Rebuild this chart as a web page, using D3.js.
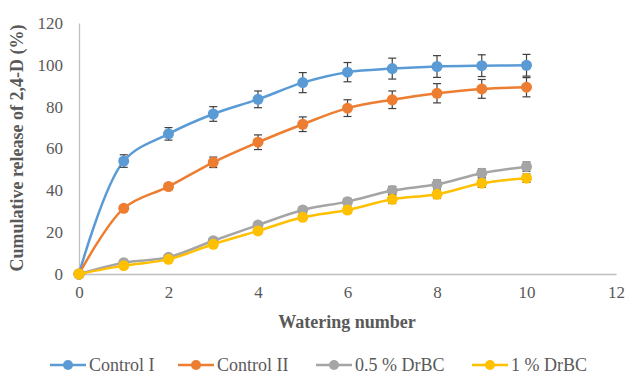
<!DOCTYPE html>
<html><head><meta charset="utf-8">
<script src="https://cdn.jsdelivr.net/npm/d3@7"></script>
<style>body{margin:0;background:#fff}svg{display:block}</style>
</head><body>
<svg id="c" width="627" height="381"></svg>
<script>
const watering = [0,1,2,3,4,5,6,7,8,9,10];
const seriesNames = ["Control I","Control II","0.5 % DrBC","1 % DrBC"];
const controlI   = [0,54,67,76.5,83.5,91.5,96.5,98.2,99.2,99.6,99.8];
const controlIErr= [0,3,3,3.5,4,4.8,4.6,5,5.2,5.2,5.2];
const controlII  = [0,31.4,41.8,53.4,63,71.6,79.3,83.3,86.4,88.5,89.3];
const controlIIErr=[0,1.2,1.5,2.5,3.5,3.5,4,4.2,4.6,4.5,4.6];
const drbc05     = [0,5.4,8,15.9,23.4,30.6,34.6,39.9,42.9,48.2,51.3];
const drbc05Err  = [0,1,1,1.5,1.5,1.5,1.5,2,2,2,2.2];
const drbc1      = [0,4,7,14.2,20.6,27.1,30.6,35.7,38.1,43.4,45.8];
const drbc1Err   = [0,1,1,1.5,1.5,1.5,1.5,2,2,2,2];
const xTicks = [0,2,4,6,8,10,12];
const yTicks = [0,20,40,60,80,100,120];
const colors = ["#5B9BD5","#ED7D31","#A5A5A5","#FFC000"];

const values=[controlI,controlII,drbc05,drbc1];
const errs=[controlIErr,controlIIErr,drbc05Err,drbc1Err];
const FONT="'Liberation Serif'";

const svg=d3.select("#c");
const x=d3.scaleLinear().domain([0,12]).range([79,616]);
const y=d3.scaleLinear().domain([0,120]).range([274,23]);

// axes
const ya=svg.append("g").attr("transform","translate(79,0)")
 .call(d3.axisLeft(y).tickValues(yTicks).tickSize(0).tickPadding(16));
ya.select(".domain").attr("stroke","#BFBFBF").attr("stroke-width",1.3);
ya.selectAll("text").style("font-family",FONT).attr("font-size",17).attr("fill","#595959");
const xa=svg.append("g").attr("transform","translate(0,274)")
 .call(d3.axisBottom(x).tickValues(xTicks).tickSize(0).tickPadding(12));
xa.select(".domain").attr("stroke","#BFBFBF").attr("stroke-width",1.3);
xa.selectAll("text").style("font-family",FONT).attr("font-size",17).attr("fill","#595959");

svg.append("text").attr("x",347).attr("y",328).attr("text-anchor","middle").style("font-family",FONT)
 .attr("font-weight","bold").attr("font-size",18).attr("fill","#595959")
 .text("Watering number");
svg.append("text").attr("transform","translate(23,148) rotate(-90)").attr("text-anchor","middle").style("font-family",FONT)
 .attr("font-weight","bold").attr("font-size",18).attr("fill","#595959")
 .text("Cumulative release of 2,4-D (%)");

const line=d3.line().x((d,i)=>x(watering[i])).y(d=>y(d)).curve(d3.curveCatmullRom.alpha(0.5));

values.forEach((vals,s)=>{
  const g=svg.append("g");
  g.append("path").datum(vals).attr("d",line).attr("fill","none")
   .attr("stroke",colors[s]).attr("stroke-width",2.5);
  vals.forEach((d,i)=>{
    const e=errs[s][i];
    if(!(e>0)) return;
    const cx=x(watering[i]);
    g.append("line").attr("x1",cx).attr("x2",cx).attr("y1",y(d+e)).attr("y2",y(d-e)).attr("stroke","#404040").attr("stroke-width",1.2);
    [d+e,d-e].forEach(v=>g.append("line").attr("x1",cx-4).attr("x2",cx+4).attr("y1",y(v)).attr("y2",y(v)).attr("stroke","#404040").attr("stroke-width",1.2));
  });
  g.selectAll("circle").data(vals).enter().append("circle")
   .attr("cx",(d,i)=>x(watering[i])).attr("cy",d=>y(d)).attr("r",5.5).attr("fill",colors[s]);
});

// legend
const legX=[50,178,316,472];
seriesNames.forEach((n,s)=>{
  const g=svg.append("g").attr("transform",`translate(${legX[s]},365)`);
  g.append("line").attr("x1",0).attr("x2",36).attr("y1",0).attr("y2",0).attr("stroke",colors[s]).attr("stroke-width",2.5);
  g.append("circle").attr("cx",18).attr("cy",0).attr("r",5).attr("fill",colors[s]);
  g.append("text").attr("x",39).attr("y",6).style("font-family",FONT).attr("font-size",18).attr("fill","#595959").text(n);
});
</script>
</body></html>
